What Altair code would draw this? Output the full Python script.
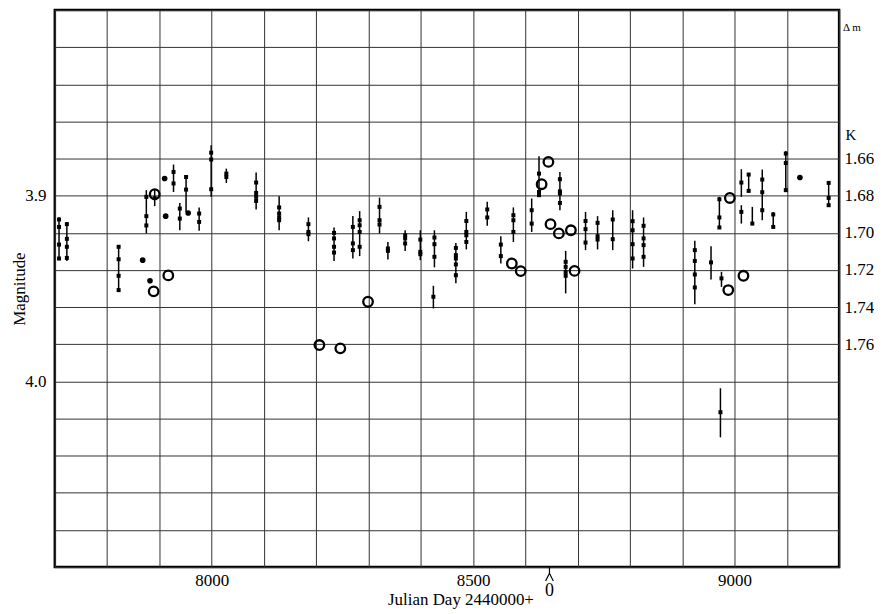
import altair as alt
import pandas as pd

# ---- data (JD - 2440000, magnitude) ----
bar_jd = [7708, 7723, 7822, 7875, 7891, 7927, 7939, 7951, 7976, 7999,
          8028, 8085, 8129, 8185, 8234, 8270, 8283, 8321, 8337, 8370,
          8399, 8426, 8424, 8467, 8487, 8527, 8553, 8577, 8612, 8626,
          8666, 8677, 8715, 8738, 8767, 8805, 8826, 8924, 8955, 8975,
          8973, 8971, 9013, 9013, 9027, 9034, 9053, 9074, 9098, 9180]
bar_lo = [3.9116, 3.9141, 3.9266, 3.8970, 3.8965, 3.8832, 3.9039, 3.8890, 3.9063, 3.8728,
          3.8854, 3.8875, 3.9003, 3.9117, 3.9171, 3.9109, 3.9083, 3.9010, 3.9249, 3.9186,
          3.9186, 3.9186, 3.9485, 3.9254, 3.9087, 3.9033, 3.9218, 3.9063, 3.9015, 3.8788,
          3.8872, 3.9297, 3.9087, 3.9110, 3.9078, 3.9078, 3.9117, 3.9243, 3.9272, 3.9410,
          4.0037, 3.9006, 3.8857, 3.9051, 3.8877, 3.9060, 3.8859, 3.9087, 3.8759, 3.8926]
bar_hi = [3.9347, 3.9351, 3.9519, 3.9203, 3.9056, 3.8980, 3.9186, 3.9087, 3.9189, 3.9006,
          3.8931, 3.9074, 3.9186, 3.9245, 3.9351, 3.9338, 3.9325, 3.9203, 3.9343, 3.9297,
          3.9347, 3.9386, 3.9607, 3.9472, 3.9289, 3.9162, 3.9365, 3.9249, 3.9195, 3.9006,
          3.9078, 3.9526, 3.9293, 3.9289, 3.9293, 3.9392, 3.9383, 3.9584, 3.9451, 3.9491,
          4.0301, 3.9176, 3.9006, 3.9150, 3.8980, 3.9159, 3.9132, 3.9171, 3.8980, 3.9056]
bar_pts = [
    [3.9128, 3.9168, 3.9263, 3.9338], [3.9153, 3.9232, 3.9275, 3.9335],
    [3.9275, 3.9342, 3.9431, 3.9508], [3.9006, 3.9110, 3.9160], [3.9013],
    [3.8872, 3.8934], [3.9069, 3.9123], [3.8899, 3.8967], [3.9096, 3.9141],
    [3.8768, 3.8805, 3.8965], [3.8881, 3.8899], [3.8929, 3.8985, 3.9006, 3.9028],
    [3.9063, 3.9096, 3.9117, 3.9132], [3.9153, 3.9195, 3.9207],
    [3.9200, 3.9230, 3.9275, 3.9306], [3.9168, 3.9257, 3.9293],
    [3.9132, 3.9159, 3.9195, 3.9275], [3.9060, 3.9132, 3.9155], [3.9284, 3.9297],
    [3.9213, 3.9230, 3.9257], [3.9236, 3.9302, 3.9315], [3.9225, 3.9261, 3.9329],
    [3.9544], [3.9281, 3.9320, 3.9338, 3.9370, 3.9428], [3.9136, 3.9195, 3.9213, 3.9249],
    [3.9074, 3.9117], [3.9263, 3.9325], [3.9105, 3.9132, 3.9195], [3.9078, 3.9150],
    [3.8881, 3.8980, 3.8997], [3.8911, 3.8976, 3.8988, 3.9039],
    [3.9356, 3.9383, 3.9410, 3.9431], [3.9136, 3.9180, 3.9252], [3.9146, 3.9218, 3.9236],
    [3.9128, 3.9234], [3.9137, 3.9186, 3.9261, 3.9338], [3.9162, 3.9230, 3.9266, 3.9329],
    [3.9293, 3.9351, 3.9424, 3.9494], [3.9359], [3.9445], [4.0166],
    [3.9019, 3.9117, 3.9171], [3.8929], [3.9087], [3.8886, 3.8974], [3.9150],
    [3.8913, 3.8981, 3.9078], [3.9101, 3.9168], [3.8773, 3.8824, 3.8970],
    [3.8931, 3.9012, 3.9051]]

dot_jd = [7868, 7882, 7910, 7912, 7955, 9125]
dot_mag = [3.9347, 3.9458, 3.8907, 3.9110, 3.9093, 3.8902]

ring_jd = [7889, 7891, 7917, 8206, 8246, 8299, 8574, 8591, 8631, 8644,
           8648, 8664, 8687, 8694, 8988, 8991, 9017]
ring_mag = [3.9515, 3.8992, 3.9429, 3.9804, 3.9822, 3.9571, 3.9365, 3.9406, 3.8938, 3.8818,
            3.9153, 3.9203, 3.9186, 3.9405, 3.9508, 3.9012, 3.9431]

x_labels = [8000, 8500, 9000]
y_labels = [3.9, 4.0]
k_labels = [1.66, 1.68, 1.70, 1.72, 1.74, 1.76]
zero_jd = [8646]
zero_text = ["0"]

FONT = "Liberation Serif"
W, H = 787, 559

bars = pd.DataFrame({"jd": bar_jd, "lo": bar_lo, "hi": bar_hi})
pts = pd.DataFrame([{"jd": j, "mag": m} for j, ms in zip(bar_jd, bar_pts) for m in ms])
dots = pd.DataFrame({"jd": dot_jd, "mag": dot_mag})
rings = pd.DataFrame({"jd": ring_jd, "mag": ring_mag})
kdf = pd.DataFrame({"k": k_labels})
zdf = pd.DataFrame({"jd": zero_jd, "t": zero_text})
dmdf = pd.DataFrame({"t": ["\u0394 m"]})

x_grid = list(range(7700, 9201, 100))
y_grid = [round(3.80 + 0.02 * i, 2) for i in range(16)]

xscale = alt.Scale(domain=[7700, 9200], nice=False, zero=False)
yscale = alt.Scale(domain=[3.80, 4.10], reverse=True, nice=False, zero=False)

x_expr = "indexof([%s], datum.value) >= 0 ? format(datum.value, 'd') : ''" % ",".join(str(v) for v in x_labels)
y_expr = "indexof([%s], round(datum.value * 100)) >= 0 ? format(datum.value, '.1f') : ''" % ",".join(
    str(int(round(v * 100))) for v in y_labels)

xaxis = alt.Axis(values=x_grid, tickCount=200, labelExpr=x_expr, title="Julian Day 2440000+",
                 titleX=407, titleY=38, titleAlign="center", titleBaseline="alphabetic",
                 ticks=False, domain=False, labelPadding=18, labelBaseline="alphabetic",
                 labelOverlap=False, labelFlush=False, grid=True)
yaxis = alt.Axis(values=y_grid, tickCount=200, labelExpr=y_expr, title="Magnitude",
                 titleX=-30, titleY=H / 2, titleAngle=-90, titleAlign="center",
                 titleBaseline="alphabetic", ticks=False, domain=False, labelPadding=9,
                 labelOverlap=False, labelFlush=False, grid=True)

X = alt.X("jd:Q", scale=xscale, axis=xaxis)

err = alt.Chart(bars).mark_rule(color="black", strokeWidth=1.5).encode(
    x=X, y=alt.Y("lo:Q", scale=yscale, axis=yaxis), y2="hi:Q")
sq = alt.Chart(pts).mark_square(color="black", size=16, opacity=1).encode(
    x="jd:Q", y="mag:Q")
dt = alt.Chart(dots).mark_circle(color="black", size=32, opacity=1).encode(
    x="jd:Q", y="mag:Q")
rg = alt.Chart(rings).mark_point(shape="circle", filled=False, color="black",
                                 size=92, strokeWidth=2.3, opacity=1).encode(
    x="jd:Q", y="mag:Q")

zt = alt.Chart(zdf).mark_rule(color="black", strokeWidth=1.2).encode(
    x="jd:Q", y=alt.value(H), y2=alt.value(H + 6))
zc = alt.Chart(zdf).mark_point(shape="M-1,1L0,-1L1,1", filled=False, color="black",
                               size=60, strokeWidth=1.2, opacity=1).encode(
    x="jd:Q", y=alt.value(H + 10))
z0 = alt.Chart(zdf).mark_text(font=FONT, fontSize=18, baseline="alphabetic",
                              align="center", color="black").encode(
    x="jd:Q", y=alt.value(H + 29), text="t:N")
dm = alt.Chart(dmdf).mark_text(font=FONT, fontSize=11, baseline="alphabetic",
                               align="left", color="black").encode(
    x=alt.value(W + 4), y=alt.value(21), text="t:N")

main = alt.layer(err, sq, dt, rg, zt, zc, z0, dm)

right = alt.Chart(kdf).mark_point(opacity=0).encode(
    y=alt.Y("k:Q", scale=alt.Scale(domain=[1.58, 1.88], reverse=True, nice=False, zero=False),
            axis=alt.Axis(orient="right", values=k_labels, tickCount=200, format=".2f", grid=False,
                          ticks=False, domain=False, labelPadding=5, labelOverlap=False,
                          labelFlush=False, title="K", titleAngle=0, titleX=6, titleY=130,
                          titleAlign="left", titleBaseline="alphabetic", titleFontSize=15)))

chart = alt.layer(main, right).resolve_scale(y="independent").properties(
    width=W, height=H,
    padding={"left": 47, "top": 1, "right": 35, "bottom": 44},
    autosize=alt.AutoSizeParams(type="none"),
).configure_view(stroke="black", strokeWidth=2.5).configure_axis(
    labelFont=FONT, titleFont=FONT, labelFontSize=17, titleFontSize=17,
    labelColor="black", titleColor="black", titleFontWeight="normal",
    gridColor="#333333", gridWidth=1, gridOpacity=1)

chart.save("out.html", embed_options={"renderer": "svg", "actions": False})
